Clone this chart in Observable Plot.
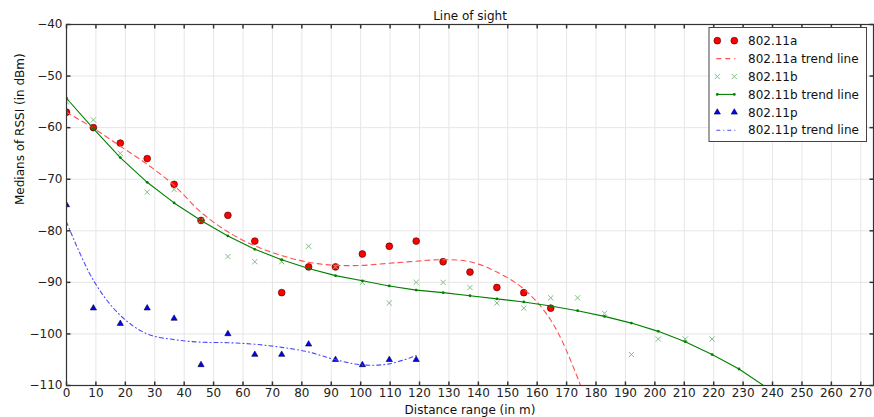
<!DOCTYPE html>
<html><head><meta charset="utf-8">
<script src="https://cdn.jsdelivr.net/npm/d3@7"></script>
<script src="https://cdn.jsdelivr.net/npm/@observablehq/plot@0.6"></script>
<style>
body{margin:0;background:#fff;}
#chart{width:874px;height:417px;}
svg{font-family:"DejaVu Sans",sans-serif;}
</style>
</head><body><div id="chart"></div>
<script>
// Distance ranges (m), 30 ft steps
const distances = [0, 9.14, 18.29, 27.43, 36.58, 45.72, 54.86, 64.01, 73.15, 82.30, 91.44, 100.58, 109.73, 118.87, 128.02, 137.16, 146.30, 155.45, 164.59, 173.74, 182.88, 192.02, 201.17, 210.31, 219.46, 228.60, 237.74];

const rssiA = [-57, -60, -63, -66, -71, -78, -77, -82, -92, -87, -87, -84.5, -83, -82, -86, -88, -91, -92, -95];
const trendA = [-57.0, -60.1, -63.6, -67.1, -71.2, -76.4, -80.2, -82.9, -84.8, -86.1, -86.7, -86.7, -86.3, -85.9, -85.6, -86.0, -88.0, -91.3, -97.3, -108.5, -124];

const rssiB = [-55, -58.5, -65, -72.5, -72, -78, -85, -86, -86, -83, -87, -90, -94, -90, -90, -91, -94, -95, -93, -93, -96, -104, -101, -101, -101];
const trendB = [-54.3, -60.2, -65.8, -70.6, -74.6, -78.0, -81.0, -83.6, -85.6, -87.3, -88.7, -89.7, -90.7, -91.5, -92.0, -92.6, -93.2, -93.8, -94.6, -95.5, -96.6, -97.9, -99.5, -101.5, -104.0, -106.8, -110.3];

const rssiP = [-75, -95, -98, -95, -97, -106, -100, -104, -104, -102, -105, -106, -105, -105];
const trendP = [-78.3, -89.6, -96.4, -100.0, -101.1, -101.6, -101.7, -102.0, -102.6, -103.5, -105.0, -106.0, -105.8, -104.2];

const xTicks = d3.range(0, 271, 10);
const yTicks = [-40, -50, -60, -70, -80, -90, -100, -110];
const xDomain = [0, 274.32];
const yDomain = [-110, -40];

const labels = ["802.11a", "802.11a trend line", "802.11b", "802.11b trend line", "802.11p", "802.11p trend line"];

const pts = vals => vals.map((v, i) => ({x: distances[i], y: v}));

const symUp = {draw(c){c.moveTo(0,0);c.lineTo(0,-4);}};
const symDown = {draw(c){c.moveTo(0,0);c.lineTo(0,4);}};
const symRight = {draw(c){c.moveTo(0,0);c.lineTo(4,0);}};
const symLeft = {draw(c){c.moveTo(0,0);c.lineTo(-4,0);}};

const cRed = "#ff0000", cRedLine = "#ff5050", cGreenX = "#7fbf7f", cGreen = "#008000", cBlue = "#0000ff", cBlueLine = "#4a4aff";

const svg = Plot.plot({
  width: 874, height: 417,
  marginLeft: 66, marginRight: 1, marginTop: 24, marginBottom: 32,
  style: {fontFamily: "DejaVu Sans, sans-serif", fontSize: "12px", color: "#222", background: "#fff"},
  x: {domain: xDomain, axis: null},
  y: {domain: yDomain, axis: null},
  marks: [
    Plot.gridX(xTicks, {stroke: "#e6e6e6", strokeOpacity: 1}),
    Plot.gridY(yTicks, {stroke: "#e6e6e6", strokeOpacity: 1}),
    Plot.axisX(xTicks, {tickSize: 0, tickPadding: 3, fontSize: 12, fill: "#222", label: null}),
    Plot.axisY(yTicks, {tickSize: 0, tickPadding: 4, fontSize: 12, fill: "#222", label: null, tickFormat: d => String(d).replace("-", "\u2212")}),
    // series
    Plot.dot(pts(rssiA), {x: "x", y: "y", r: 3.4, fill: cRed, stroke: "#3a0000", strokeWidth: 0.6, clip: true}),
    Plot.line(pts(trendA), {x: "x", y: "y", stroke: cRedLine, strokeWidth: 1.1, strokeDasharray: "5,4", curve: "catmull-rom", clip: true}),
    Plot.dot(pts(rssiB), {x: "x", y: "y", r: 2.5, symbol: "times", stroke: cGreenX, strokeWidth: 1, clip: true}),
    Plot.line(pts(trendB), {x: "x", y: "y", stroke: cGreen, strokeWidth: 1.1, clip: true}),
    Plot.dot(pts(trendB), {x: "x", y: "y", r: 1.4, fill: cGreen, stroke: "none", clip: true}),
    Plot.dot(pts(rssiP), {x: "x", y: "y", r: 2.3, symbol: "triangle", fill: cBlue, stroke: "#000033", strokeWidth: 0.6, clip: true}),
    Plot.line(pts(trendP), {x: "x", y: "y", stroke: cBlueLine, strokeWidth: 1.1, strokeDasharray: "4,3,1,3", curve: "catmull-rom", clip: true}),
    // inward ticks
    Plot.dot(xTicks, {x: d => d, y: yDomain[0], symbol: symUp, stroke: "#333", fill: "none"}),
    Plot.dot(xTicks, {x: d => d, y: yDomain[1], symbol: symDown, stroke: "#333", fill: "none"}),
    Plot.dot(yTicks, {y: d => d, x: xDomain[0], symbol: symRight, stroke: "#333", fill: "none"}),
    Plot.dot(yTicks, {y: d => d, x: xDomain[1], symbol: symLeft, stroke: "#333", fill: "none"}),
    Plot.frame({stroke: "#333", strokeWidth: 1.2}),
    // titles
    Plot.text(["Line of sight"], {frameAnchor: "top", lineAnchor: "middle", dy: -8.5, fontSize: 12, fill: "#111"}),
    Plot.text(["Distance range (in m)"], {frameAnchor: "bottom", lineAnchor: "middle", dy: 25, fontSize: 12, fill: "#111"}),
    Plot.text(["Medians of RSSI (in dBm)"], {frameAnchor: "left", lineAnchor: "middle", dx: -46, rotate: -90, fontSize: 12, fill: "#111"})
  ]
});

// Legend (inside the plot, upper right)
const g = d3.select(svg).append("g").attr("transform", "translate(709,27.5)").attr("text-anchor", "start");
g.append("rect").attr("x", 0).attr("y", 0).attr("width", 157.5).attr("height", 114)
  .attr("fill", "#fff").attr("stroke", "#444").attr("stroke-width", 1);
const rowY = i => 13.2 + i * 17.9;
labels.forEach((lab, i) => {
  const row = g.append("g").attr("transform", `translate(0,${rowY(i)})`);
  const m1 = 8.3, m2 = 25.3;
  if (i === 0) {
    [m1, m2].forEach(mx => row.append("circle").attr("cx", mx).attr("cy", 0).attr("r", 3.4).attr("fill", cRed).attr("stroke", "#3a0000").attr("stroke-width", 0.6));
  } else if (i === 1) {
    row.append("line").attr("x1", m1 - 1).attr("x2", m2 + 1).attr("y1", 0).attr("y2", 0).attr("stroke", cRedLine).attr("stroke-width", 1.1).attr("stroke-dasharray", "5,4");
  } else if (i === 2) {
    [m1, m2].forEach(mx => row.append("path").attr("d", d3.symbol(d3.symbolTimes, 19.6)()).attr("transform", `translate(${mx},0)`).attr("stroke", cGreenX).attr("fill", "none"));
  } else if (i === 3) {
    row.append("line").attr("x1", m1).attr("x2", m2).attr("y1", 0).attr("y2", 0).attr("stroke", cGreen).attr("stroke-width", 1.1);
    [m1, m2].forEach(mx => row.append("circle").attr("cx", mx).attr("cy", 0).attr("r", 1.4).attr("fill", cGreen));
  } else if (i === 4) {
    [m1, m2].forEach(mx => row.append("path").attr("d", d3.symbol(d3.symbolTriangle, 16.6)()).attr("transform", `translate(${mx},0)`).attr("fill", cBlue).attr("stroke", "#000033").attr("stroke-width", 0.6));
  } else {
    row.append("line").attr("x1", m1 - 1).attr("x2", m2 + 1).attr("y1", 0).attr("y2", 0).attr("stroke", cBlueLine).attr("stroke-width", 1.1).attr("stroke-dasharray", "4,3,1,3");
  }
  row.append("text").attr("x", 39).attr("y", 0).attr("dy", "0.35em").attr("text-anchor", "start").attr("font-size", 12).attr("fill", "#111").text(lab);
});

document.getElementById("chart").appendChild(svg);
</script>
</body></html>
